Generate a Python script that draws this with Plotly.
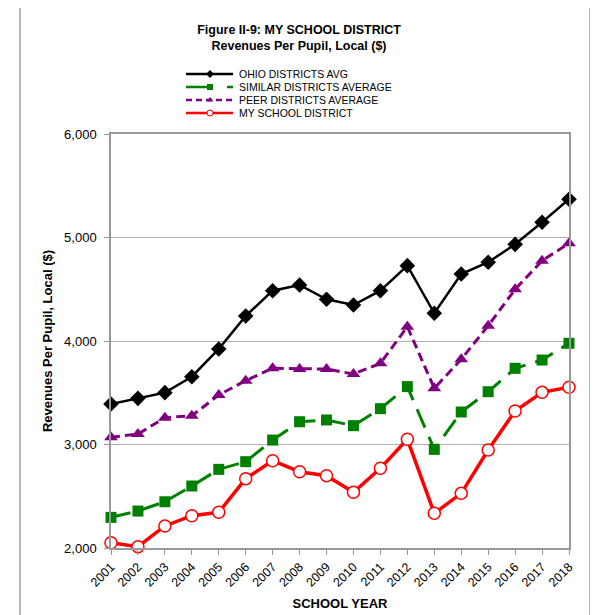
import plotly.graph_objects as go

years = [str(y) for y in range(2001, 2019)]
ohio = [3391, 3446, 3501, 3655, 3923, 4242, 4486, 4541, 4403, 4348, 4486, 4728, 4268, 4647, 4761, 4934, 5147, 5370]
similar = [2296, 2357, 2447, 2599, 2760, 2834, 3043, 3220, 3237, 3182, 3346, 3559, 2953, 3314, 3510, 3736, 3816, 3978]
peer = [3070, 3101, 3259, 3278, 3478, 3617, 3736, 3729, 3729, 3681, 3784, 4138, 3543, 3823, 4148, 4499, 4776, 4944]
mine = [2051, 2013, 2213, 2312, 2345, 2670, 2843, 2737, 2699, 2538, 2770, 3050, 2335, 2528, 2947, 3324, 3504, 3553]
series_names = ["OHIO DISTRICTS AVG", "SIMILAR DISTRICTS AVERAGE", "PEER DISTRICTS AVERAGE", "MY SCHOOL DISTRICT"]
y_ticks = [2000, 3000, 4000, 5000, 6000]

# page has an 8px body margin: size the figure so that it fits the 598x615 window
OFF = 8
W, H = 598 - OFF, 615 - OFF
# plot area edges expressed in page pixels of the target, converted to figure pixels
L, R, T, Bt = 111 - OFF, 569 - OFF, 134 - OFF, 548 - OFF

styles = [
    dict(line=dict(color="black", width=2.5),
         marker=dict(symbol="diamond", size=12, color="black")),
    dict(line=dict(color="#008000", width=3, dash="20px,10px"),
         marker=dict(symbol="square", size=11, color="#008000")),
    dict(line=dict(color="#800080", width=3, dash="9px,5px"),
         marker=dict(symbol="triangle-up", size=12, color="#800080")),
    dict(line=dict(color="#ff0000", width=3.5),
         marker=dict(symbol="circle", size=12, color="white", line=dict(color="#ff0000", width=1.5))),
]
legend_styles = [
    dict(line=dict(color="black", width=2.5),
         marker=dict(symbol="diamond", size=6, color="black")),
    dict(line=dict(color="#008000", width=2.5, dash="27px,14px"),
         marker=dict(symbol="square", size=6, color="#008000")),
    dict(line=dict(color="#800080", width=2.5, dash="6px,4px"),
         marker=dict(symbol="triangle-up", size=6, color="#800080")),
    dict(line=dict(color="#ff0000", width=2.5),
         marker=dict(symbol="circle", size=6, color="white", line=dict(color="#ff0000", width=1))),
]

fig = go.Figure()
for name, vals, st in zip(series_names, [ohio, similar, peer, mine], styles):
    fig.add_trace(go.Scatter(x=years, y=vals, name=name, mode="lines+markers",
                             cliponaxis=False, showlegend=False, **st))

# custom legend drawn on an overlay axis covering the whole figure (pixel units)
leg_x0, leg_x1, leg_mx, leg_tx = 186 - OFF, 233 - OFF, 210 - OFF, 237 - OFF
leg_rows = [74 - OFF, 87 - OFF, 100 - OFF, 113 - OFF]
annotations = []
for name, row, st in zip(series_names, leg_rows, legend_styles):
    fig.add_trace(go.Scatter(x=[leg_x0, leg_x1], y=[row, row], mode="lines", line=st["line"],
                             xaxis="x2", yaxis="y2", showlegend=False, hoverinfo="skip"))
    fig.add_trace(go.Scatter(x=[leg_mx], y=[row], mode="markers", marker=st["marker"],
                             xaxis="x2", yaxis="y2", showlegend=False, hoverinfo="skip"))
    annotations.append(dict(x=leg_tx, y=row, xref="x2", yref="y2", text=name, showarrow=False,
                            xanchor="left", yanchor="middle", font=dict(size=10.5)))

fig.update_layout(
    width=W, height=H,
    margin=dict(l=0, r=0, t=0, b=0, autoexpand=False),
    paper_bgcolor="white", plot_bgcolor="rgba(0,0,0,0)",
    font=dict(family="Liberation Sans, Arial, sans-serif", color="black"),
    title=dict(text="<b>Figure II-9: MY SCHOOL DISTRICT<br>Revenues Per Pupil, Local ($)</b>",
               x=(299 - OFF) / W, xanchor="center", y=1 - 26 / H, yanchor="top",
               font=dict(size=12.5)),
    showlegend=False,
    xaxis=dict(type="category", range=[0, 17], domain=[L / W, R / W], showgrid=False,
               automargin=False,
               showline=True, linecolor="#999999", linewidth=1.5, mirror=True,
               ticks="outside", ticklen=5, tickcolor="#999999",
               tickangle=-45, tickfont=dict(size=12.5),
               title=dict(text="<b>SCHOOL YEAR</b>", font=dict(size=13), standoff=10)),
    yaxis=dict(range=[2000, 6000], domain=[(H - Bt) / H, (H - T) / H], tickvals=y_ticks, tickformat=",d",
               automargin=False,
               showgrid=True, gridcolor="#b0b0b0", gridwidth=1,
               showline=True, linecolor="#999999", linewidth=1.5, mirror=True,
               ticks="outside", ticklen=5, tickcolor="#999999", ticklabelstandoff=5,
               tickfont=dict(size=13),
               title=dict(text="<b>Revenues Per Pupil, Local ($)</b>", font=dict(size=13), standoff=9)),
    xaxis2=dict(domain=[0, 1], range=[0, W], visible=False, fixedrange=True, automargin=False,
                anchor="y2"),
    yaxis2=dict(domain=[0, 1], range=[H, 0], visible=False, fixedrange=True, automargin=False,
                anchor="x2"),
    annotations=annotations,
    shapes=[dict(type="rect", xref="x2", yref="y2", x0=20 - OFF, x1=590 - OFF, y0=3 - OFF, y1=640,
                 line=dict(color="#a0a0a0", width=1.5), layer="below")],
)

fig.write_html("out.html")
